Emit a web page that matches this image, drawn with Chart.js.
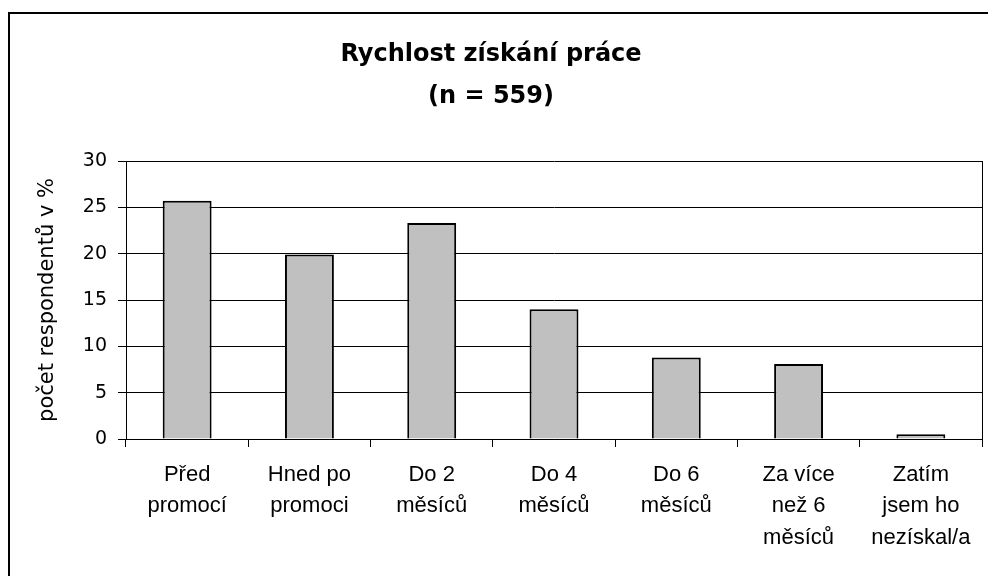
<!DOCTYPE html>
<html>
<head>
<meta charset="utf-8">
<script src="https://cdn.jsdelivr.net/npm/chart.js@4/dist/chart.umd.min.js"></script>
<style>
  body { margin: 0; background: #fff; }
  #wrap { position: relative; width: 988px; height: 576px; overflow: hidden; }
  #frame {
    position: absolute; left: 8px; top: 12px; width: 1200px; height: 800px;
    border-left: 2px solid #000; border-top: 2px solid #000;
  }
  canvas { position: absolute; left: 0; top: 0; }
</style>
</head>
<body>
<div id="wrap">
  <div id="frame"></div>
  <canvas id="chart" width="988" height="576"></canvas>
</div>
<script>
const titleLines = ["Rychlost získání práce", "(n = 559)"];
const yTitle = "počet respondentů v %";
const categories = [
  ["Před", "promocí"],
  ["Hned po", "promoci"],
  ["Do 2", "měsíců"],
  ["Do 4", "měsíců"],
  ["Do 6", "měsíců"],
  ["Za více", "než 6", "měsíců"],
  ["Zatím", "jsem ho", "nezískal/a"],
];
const values = [25.7, 19.9, 23.3, 14.0, 8.8, 8.1, 0.5];
const yTicks = { min: 0, max: 30, step: 5 };

// right-hand edge of the plot box
const plotFrame = {
  id: "plotFrame",
  afterDraw(chart) {
    const { ctx, chartArea: a } = chart;
    ctx.save();
    ctx.strokeStyle = "#000";
    ctx.lineWidth = 1;
    ctx.beginPath();
    ctx.moveTo(Math.round(a.right) + 0.5, a.top);
    ctx.lineTo(Math.round(a.right) + 0.5, a.bottom);
    ctx.stroke();
    ctx.restore();
  },
};

const ctx = document.getElementById("chart").getContext("2d");
new Chart(ctx, {
  type: "bar",
  data: {
    labels: categories,
    datasets: [
      {
        data: values,
        backgroundColor: "#c0c0c0",
        borderColor: "#000",
        borderWidth: 2,
        categoryPercentage: 0.8,
        barPercentage: 0.5,
      },
    ],
  },
  options: {
    responsive: false,
    animation: false,
    layout: { padding: { left: 0, right: 6, top: 0, bottom: 0 } },
    plugins: {
      legend: { display: false },
      tooltip: { enabled: false },
      title: {
        display: true,
        text: titleLines,
        color: "#000",
        font: { family: "DejaVu Sans", size: 24, weight: "bold", lineHeight: 1.75 },
        padding: { top: 34, bottom: 43 },
      },
    },
    scales: {
      x: {
        afterFit: (scale) => { scale.height = 137; },
        grid: {
          display: true,
          drawOnChartArea: false,
          drawTicks: true,
          tickLength: 8,
          color: "#000",
          offset: true,
        },
        border: { color: "#000", width: 1 },
        ticks: {
          color: "#000",
          padding: 12,
          maxRotation: 0,
          autoSkip: false,
          font: { family: "'Liberation Sans', Arial", size: 22, lineHeight: 1.43 },
        },
      },
      y: {
        min: yTicks.min,
        max: yTicks.max,
        afterFit: (scale) => { scale.width = 126; },
        grid: { color: "#000", lineWidth: 1, tickLength: 8 },
        border: { color: "#000", width: 1 },
        ticks: {
          stepSize: yTicks.step,
          color: "#000",
          padding: 11,
          font: { family: "DejaVu Sans", size: 19 },
        },
        title: {
          display: true,
          text: yTitle,
          color: "#000",
          font: { family: "DejaVu Sans", size: 21, lineHeight: 1.2 },
          padding: { top: 35, bottom: 0 },
        },
      },
    },
  },
  plugins: [plotFrame],
});
</script>
</body>
</html>
